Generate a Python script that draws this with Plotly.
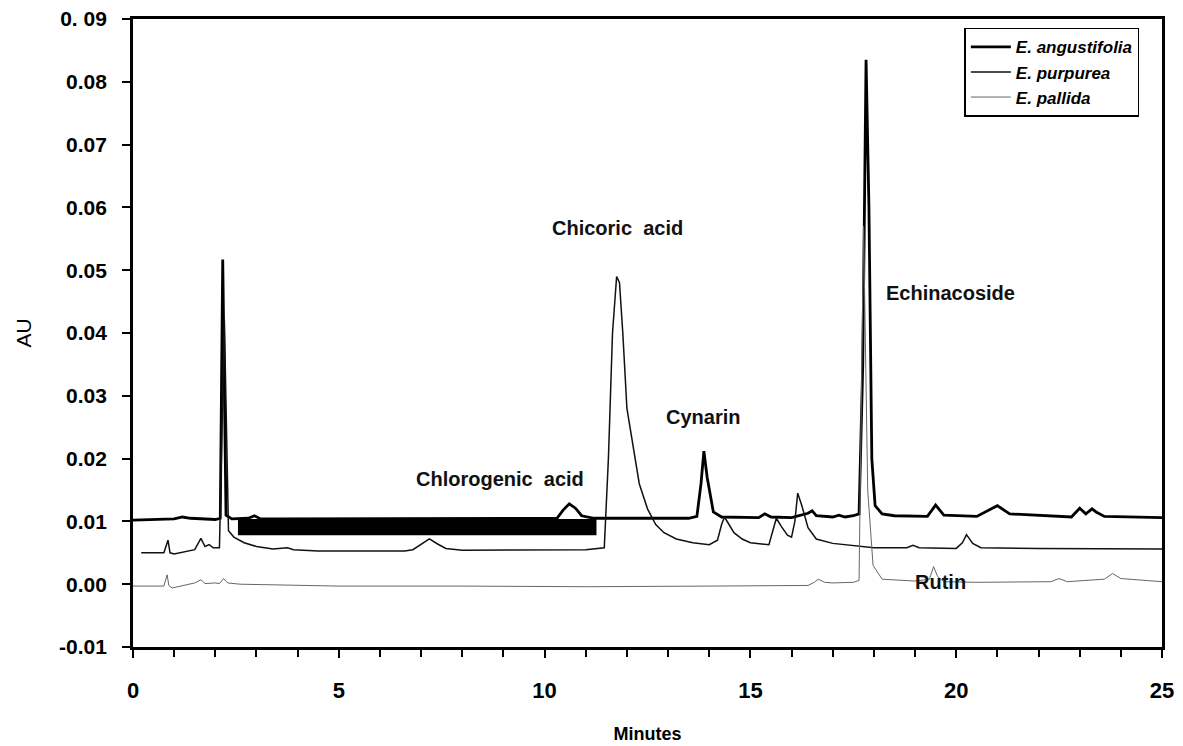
import plotly.graph_objects as go

# ---------------- data ----------------
ang_x = [0.0, 1.0, 1.2, 1.4, 2.0, 2.12, 2.18, 2.26, 2.4, 2.8, 2.95, 3.1, 3.5, 10.3, 10.45, 10.6, 10.75,
         10.9, 11.2, 13.5, 13.7, 13.8, 13.87, 13.95, 14.1, 14.3, 15.2, 15.35, 15.5, 16.0, 16.4, 16.5,
         16.6, 17.0, 17.15, 17.3, 17.5, 17.64, 17.73, 17.81, 17.88, 17.95, 18.03, 18.2, 18.5, 19.3, 19.5,
         19.7, 20.5, 20.9, 21.0, 21.3, 22.8, 23.0, 23.15, 23.3, 23.4, 23.6, 25.0]
ang_y = [0.0102, 0.0104, 0.0107, 0.0105, 0.0103, 0.0105, 0.0517, 0.0110, 0.0104, 0.0105, 0.0109, 0.0104,
         0.0104, 0.0105, 0.0118, 0.0128, 0.0121, 0.0109, 0.0105, 0.0105, 0.0108, 0.0160, 0.0212, 0.0170,
         0.0115, 0.0107, 0.0106, 0.0112, 0.0107, 0.0106, 0.0113, 0.0117, 0.0109, 0.0107, 0.0110, 0.0107,
         0.0109, 0.0112, 0.0350, 0.0835, 0.0600, 0.0200, 0.0125, 0.0112, 0.0109, 0.0108, 0.0126, 0.0110,
         0.0108, 0.0122, 0.0125, 0.0112, 0.0107, 0.0121, 0.0112, 0.0120, 0.0115, 0.0108, 0.0106]

pur_x = [0.2, 0.75, 0.85, 0.9, 1.0, 1.5, 1.65, 1.75, 1.85, 1.95, 2.1, 2.22, 2.32, 2.45, 2.7, 3.0, 3.4,
         3.6, 3.75, 3.9, 4.5, 5.5, 6.6, 6.8, 7.0, 7.2, 7.4, 7.6, 8.0, 9.0, 11.0, 11.45, 11.55, 11.65,
         11.75, 11.82, 11.9, 12.0, 12.15, 12.3, 12.5, 12.7, 12.9, 13.2, 13.6, 14.0, 14.2, 14.3, 14.37,
         14.45, 14.6, 14.8, 15.0, 15.45, 15.55, 15.63, 15.75, 15.9, 16.0, 16.08, 16.15, 16.25, 16.4,
         16.6, 17.0, 17.6, 18.0, 18.8, 18.95, 19.1, 20.0, 20.15, 20.25, 20.4, 20.6, 22.0, 24.0, 25.0]
pur_y = [0.0050, 0.0050, 0.0070, 0.0050, 0.0048, 0.0055, 0.0073, 0.0060, 0.0063, 0.0058, 0.0058, 0.0420,
         0.0085, 0.0075, 0.0066, 0.0060, 0.0056, 0.0057, 0.0058, 0.0055, 0.0053, 0.0053, 0.0053, 0.0055,
         0.0064, 0.0072, 0.0064, 0.0057, 0.0054, 0.0054, 0.0055, 0.0058, 0.0200, 0.0400, 0.0490, 0.0480,
         0.0400, 0.0280, 0.0220, 0.0160, 0.0120, 0.0095, 0.0082, 0.0072, 0.0066, 0.0063, 0.0070, 0.0095,
         0.0107, 0.0098, 0.0082, 0.0072, 0.0066, 0.0063, 0.0085, 0.0105, 0.0092, 0.0078, 0.0075, 0.0100,
         0.0145, 0.0125, 0.0090, 0.0072, 0.0065, 0.0061, 0.0058, 0.0058, 0.0062, 0.0058, 0.0057, 0.0066,
         0.0079, 0.0065, 0.0058, 0.0057, 0.0057, 0.0056]

pal_x = [0.0, 0.75, 0.83, 0.87, 0.95, 1.2, 1.5, 1.65, 1.75, 2.0, 2.1, 2.2, 2.3, 2.6, 3.5, 5.0, 8.0, 11.0,
         14.0, 16.4, 16.55, 16.65, 16.8, 17.0, 17.5, 17.64, 17.75, 17.85, 17.98, 18.2, 19.0, 19.35, 19.45,
         19.55, 19.7, 20.5, 22.3, 22.5, 22.7, 23.6, 23.8, 24.0, 25.0]
pal_y = [-0.0003, -0.0003, 0.0015, -0.0002, -0.0006, -0.0002, 0.0002, 0.0007, 0.0001, 0.0002, 0.0001,
         0.0009, 0.0002, 0.0000, -0.0001, -0.0003, -0.0003, -0.0004, -0.0003, -0.0002, 0.0003, 0.0008,
         0.0003, 0.0002, 0.0003, 0.0006, 0.0570, 0.0150, 0.0030, 0.0008, 0.0005, 0.0008, 0.0028, 0.0012,
         0.0004, 0.0003, 0.0004, 0.0009, 0.0004, 0.0008, 0.0017, 0.0009, 0.0004]

series_names = ["E. angustifolia", "E. purpurea", "E. pallida"]

# black bar that covers part of the scanned trace
bar_x = [2.55, 11.26]
bar_y = [0.0078, 0.0104]

# peak labels
label_text = ["Chicoric  acid", "Cynarin", "Chlorogenic  acid", "Echinacoside", "Rutin"]
label_x = [11.78, 13.85, 8.92, 19.85, 19.63]
label_y = [0.0567, 0.0266, 0.0167, 0.0463, 0.0004]

y_ticks = [-0.01, 0.0, 0.01, 0.02, 0.03, 0.04, 0.05, 0.06, 0.07, 0.08, 0.09]
y_tick_text = ["-0.01", "0.00", "0.01", "0.02", "0.03", "0.04", "0.05", "0.06", "0.07", "0.08", "0. 09"]
x_ticks = [0, 5, 10, 15, 20, 25]
x_tick_text = ["0", "5", "10", "15", "20", "25"]

FONT = "Liberation Sans, Arial, sans-serif"

fig = go.Figure()
fig.add_trace(go.Scatter(x=ang_x, y=ang_y, mode="lines", name=f"<b><i>{series_names[0]}</i></b>",
                         line=dict(color="#000000", width=2.8)))
fig.add_trace(go.Scatter(x=pur_x, y=pur_y, mode="lines", name=f"<b><i>{series_names[1]}</i></b>",
                         line=dict(color="#111111", width=1.5)))
fig.add_trace(go.Scatter(x=pal_x, y=pal_y, mode="lines", name=f"<b><i>{series_names[2]}</i></b>",
                         line=dict(color="#666666", width=1)))

fig.add_shape(type="rect", xref="x", yref="y", x0=bar_x[0], x1=bar_x[1], y0=bar_y[0], y1=bar_y[1],
              fillcolor="#000000", line=dict(width=0), layer="above")

for t, lx, ly in zip(label_text, label_x, label_y):
    fig.add_annotation(x=lx, y=ly, text=f"<b>{t}</b>", showarrow=False, xref="x", yref="y",
                       font=dict(family=FONT, size=20, color="#111111"))

fig.update_layout(
    width=1183, height=746,
    margin=dict(l=133, r=21, t=19, b=99, autoexpand=False),
    paper_bgcolor="white", plot_bgcolor="white",
    showlegend=True,
    legend=dict(x=0.978, y=0.986, xanchor="right", yanchor="top",
                bordercolor="#000000", borderwidth=1.5, bgcolor="white",
                font=dict(family=FONT, size=17, color="#000000"),
                tracegroupgap=0, itemwidth=40),
)
fig.update_xaxes(range=[0, 25], tickvals=x_ticks, ticktext=x_tick_text, automargin=False,
                 showline=True, linecolor="#000000", linewidth=2.5, mirror=True,
                 ticks="outside", ticklen=8, tickwidth=2, tickcolor="#000000",
                 minor=dict(dtick=1, ticks="outside", ticklen=7, tickwidth=2, tickcolor="#000000"),
                 showgrid=False, zeroline=False, ticklabelstandoff=14,
                 tickfont=dict(family=FONT, size=22, color="#000000", weight="bold"),
                 title=dict(text="<b>Minutes</b>", standoff=26,
                            font=dict(family=FONT, size=18, color="#000000")))
fig.update_yaxes(range=[-0.01, 0.09], tickvals=y_ticks, ticktext=y_tick_text, automargin=False,
                 showline=True, linecolor="#000000", linewidth=2.8, mirror=True,
                 ticks="outside", ticklen=8, tickwidth=2, tickcolor="#000000",
                 showgrid=False, zeroline=False, ticklabelstandoff=11,
                 tickfont=dict(family=FONT, size=21, color="#000000", weight="bold"),
                 title=dict(text="AU", standoff=22,
                            font=dict(family=FONT, size=21, color="#000000")))

fig.write_html("out.html", config={"displayModeBar": False},
               post_script="document.body.style.margin='0';document.body.style.overflow='hidden';")
